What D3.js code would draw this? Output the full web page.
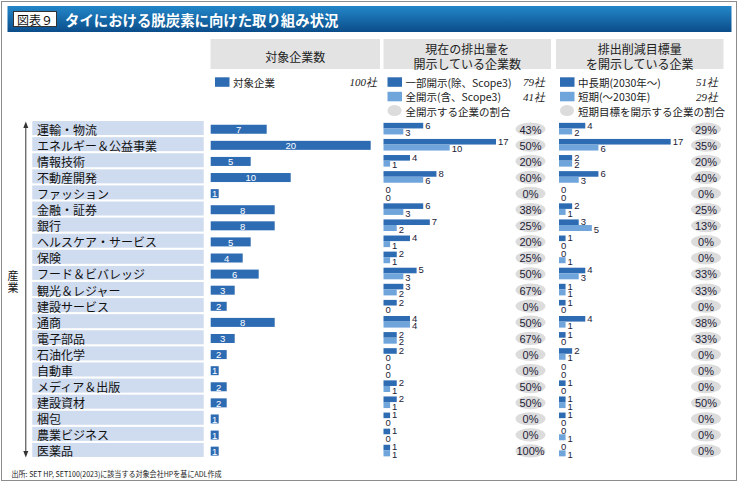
<!DOCTYPE html>
<html><head><meta charset="utf-8">
<script src="https://cdn.jsdelivr.net/npm/d3@7"></script>
<style>
html,body{margin:0;padding:0;background:#fff;}
svg{display:block;font-family:"Noto Sans CJK JP","Noto Sans",sans-serif;}
</style></head>
<body><svg id="chart" width="740" height="484"></svg>
<script>
const categories = ["運輸・物流","エネルギー＆公益事業","情報技術","不動産開発","ファッション","金融・証券","銀行","ヘルスケア・サービス","保険","フード＆ビバレッジ","観光＆レジャー","建設サービス","通商","電子部品","石油化学","自動車","メディア＆出版","建設資材","梱包","農業ビジネス","医薬品"];
const companies      = [7,20,5,10,1,8,8,5,4,6,3,2,8,3,2,1,2,2,1,1,1];
const partialDisc    = [6,17,4,8,0,6,7,4,2,5,3,2,4,2,2,0,2,2,1,1,1];
const fullDisc       = [3,10,1,6,0,3,2,1,1,3,2,0,4,2,0,0,1,1,0,0,1];
const fullDiscPct    = [43,50,20,60,0,38,25,20,25,50,67,0,50,67,0,0,50,50,0,0,100];
const midLongTarget  = [4,17,2,6,0,2,3,1,0,4,1,1,4,1,2,0,1,1,1,0,0];
const shortTarget    = [2,6,2,3,0,1,5,0,1,3,1,0,1,0,1,0,0,1,0,1,1];
const shortTargetPct = [29,35,20,40,0,25,13,0,0,33,33,0,38,33,0,0,0,50,0,0,0];

const panelTitles = [["対象企業数"],["現在の排出量を","開示している企業数"],["排出削減目標量","を開示している企業"]];
const legend1 = [{label:"対象企業", total:"100社", type:"dark"}];
const legend2 = [{label:"一部開示(除、Scope3)", total:"79社", type:"dark"},{label:"全開示(含、Scope3)", total:"41社", type:"light"},{label:"全開示する企業の割合", total:"", type:"pct"}];
const legend3 = [{label:"中長期(2030年〜)", total:"51社", type:"dark"},{label:"短期(〜2030年)", total:"29社", type:"light"},{label:"短期目標を開示する企業の割合", total:"", type:"pct"}];
const titleLabel = "図表９";
const titleText = "タイにおける脱炭素に向けた取り組み状況";
const axisLabel = "産業";
const sourceText = "出所: SET HP, SET100(2023)に該当する対象会社HPを基にADL作成";

const DARK = "#2d6bb3", LIGHT = "#6fa5db", GRAY = "#dcdcdc", BAND = "#cfdbee", TXT = "#1c1c38";
const svg = d3.select("#chart");

// outer frame
svg.append("rect").attr("x",1.5).attr("y",1.5).attr("width",735).attr("height",479).attr("fill","#fff").attr("stroke","#8c8c8c");

// title bar
const defs = svg.append("defs");
const g = defs.append("linearGradient").attr("id","tg").attr("x1",0).attr("y1",0).attr("x2",0).attr("y2",1);
g.append("stop").attr("offset","0%").attr("stop-color","#2387c9");
g.append("stop").attr("offset","100%").attr("stop-color","#0b4d8a");
svg.append("rect").attr("x",7.5).attr("y",6).attr("width",724).attr("height",26).attr("fill","url(#tg)");
svg.append("rect").attr("x",13.5).attr("y",11.5).attr("width",43).attr("height",15).attr("fill","#fff").attr("stroke","#333");
svg.append("text").attr("x",35).attr("y",19.5).attr("text-anchor","middle").attr("dominant-baseline","central").attr("font-size",12).attr("fill","#111").text(titleLabel);
svg.append("text").attr("x",65).attr("y",19).attr("dominant-baseline","central").attr("font-size",14.4).attr("font-weight","bold").attr("fill","#fff").text(titleText);

// panel headers
const headerBoxes = [[210.5,380],[383.5,551],[556,723.5]];
panelTitles.forEach((lines,i)=>{
  const [x0,x1] = headerBoxes[i];
  svg.append("rect").attr("x",x0).attr("y",39).attr("width",x1-x0).attr("height",30).attr("fill","#e3e3e3");
  const cx=(x0+x1)/2;
  lines.forEach((t,j)=>{
    const y = lines.length===1 ? 56.5 : 48.5 + j*14.5;
    svg.append("text").attr("x",cx).attr("y",y).attr("text-anchor","middle").attr("dominant-baseline","central").attr("font-size",12).attr("fill","#222").text(t);
  });
});

// scales
const y = d3.scaleBand().domain(categories).range([121,459]).paddingInner(0).paddingOuter(0);
const x1 = d3.scaleLinear().domain([0,20]).range([210.7,370.7]);
const x2 = d3.scaleLinear().domain([0,17]).range([383.5,496]);
const x3 = d3.scaleLinear().domain([0,17]).range([559,670.7]);
const cy = c => y(c) + y.bandwidth()/2;

// legends
function drawLegend(items, lx, totalX){
  items.forEach((d,i)=>{
    const yy = 82 + i*14.5;
    if(d.type==="pct"){
      svg.append("ellipse").attr("cx",lx+7).attr("cy",yy-0.5).attr("rx",7).attr("ry",5.5).attr("fill",GRAY);
    } else {
      svg.append("rect").attr("x",lx).attr("y",yy-4.7).attr("width",14.5).attr("height",9.5).attr("fill",d.type==="dark"?DARK:LIGHT);
    }
    svg.append("text").attr("x",lx+18).attr("y",yy).attr("dominant-baseline","central").attr("font-size",10.5).attr("fill","#222").text(d.label);
    if(d.total){
      svg.append("text").attr("x",totalX).attr("y",yy).attr("text-anchor","end").attr("dominant-baseline","central")
        .attr("font-family","'Liberation Serif',serif").attr("font-style","italic").attr("font-size",11).attr("fill","#222").text(d.total);
    }
  });
}
drawLegend(legend1,215,377);
drawLegend(legend2,387.5,545);
drawLegend(legend3,560,718);

// category bands & labels
svg.selectAll(".band").data(categories).join("rect")
  .attr("x",32.3).attr("y",d=>cy(d)-8).attr("width",171.4).attr("height",14).attr("fill",BAND);
svg.selectAll(".clabel").data(categories).join("text")
  .attr("x",37).attr("y",d=>cy(d)).attr("dominant-baseline","central").attr("font-size",12).attr("fill","#111").text(d=>d);

// vertical arrow axis
svg.append("line").attr("x1",25.8).attr("x2",25.8).attr("y1",124).attr("y2",452).attr("stroke","#333").attr("stroke-width",1);
svg.append("path").attr("d","M25.8,121.5 L23.3,128 L28.3,128 Z").attr("fill","#333");
svg.append("path").attr("d","M25.8,457.5 L23.3,451 L28.3,451 Z").attr("fill","#333");
axisLabel.split("").forEach((ch,i)=>{
  svg.append("text").attr("x",13).attr("y",275+i*12).attr("text-anchor","middle").attr("dominant-baseline","central").attr("font-size",11).attr("fill","#111").text(ch);
});

// panel 1: companies
const p1 = svg.append("g");
p1.selectAll("rect").data(categories).join("rect")
  .attr("x",x1(0)).attr("y",d=>cy(d)-4.3).attr("width",(d,i)=>x1(companies[i])-x1(0)).attr("height",9).attr("fill",DARK);
p1.selectAll("text").data(categories).join("text")
  .attr("x",(d,i)=>(x1(0)+x1(companies[i]))/2).attr("y",d=>cy(d)+0.5).attr("text-anchor","middle").attr("dominant-baseline","central")
  .attr("font-family","'Liberation Sans',Arial,sans-serif").attr("font-size",9.5).attr("fill","#fff").text((d,i)=>companies[i]);

// paired bar panels
function pairedPanel(xs, darkVals, lightVals, pcts, pctX){
  const gg = svg.append("g");
  gg.selectAll(".d").data(categories).join("rect")
    .attr("x",xs(0)).attr("y",d=>cy(d)-6.2).attr("width",(d,i)=>xs(darkVals[i])-xs(0)).attr("height",5.6).attr("fill",DARK);
  gg.selectAll(".l").data(categories).join("rect")
    .attr("x",xs(0)).attr("y",d=>cy(d)-0.6).attr("width",(d,i)=>xs(lightVals[i])-xs(0)).attr("height",6).attr("fill",LIGHT);
  gg.selectAll(".dt").data(categories).join("text")
    .attr("x",(d,i)=>xs(darkVals[i])+2).attr("y",d=>cy(d)-4).attr("dominant-baseline","central")
    .attr("font-family","'Liberation Sans',Arial,sans-serif").attr("font-size",9.5).attr("fill",TXT).text((d,i)=>darkVals[i]);
  gg.selectAll(".lt").data(categories).join("text")
    .attr("x",(d,i)=>xs(lightVals[i])+2).attr("y",d=>cy(d)+3.6).attr("dominant-baseline","central")
    .attr("font-family","'Liberation Sans',Arial,sans-serif").attr("font-size",9.5).attr("fill",TXT).text((d,i)=>lightVals[i]);
  gg.selectAll("ellipse").data(categories).join("ellipse")
    .attr("cx",pctX).attr("cy",d=>cy(d)).attr("rx",15).attr("ry",6.6).attr("fill",GRAY);
  gg.selectAll(".pt").data(categories).join("text")
    .attr("x",pctX).attr("y",d=>cy(d)+0.5).attr("text-anchor","middle").attr("dominant-baseline","central")
    .attr("font-family","'Liberation Sans',Arial,sans-serif").attr("font-size",11).attr("fill",TXT).text((d,i)=>pcts[i]+"%");
}
pairedPanel(x2, partialDisc, fullDisc, fullDiscPct, 530.5);
pairedPanel(x3, midLongTarget, shortTarget, shortTargetPct, 706);

// source
svg.append("text").attr("x",11.5).attr("y",473).attr("dominant-baseline","central").attr("font-size",8).attr("fill","#222")
  .attr("textLength",210).attr("lengthAdjust","spacingAndGlyphs").text(sourceText);
</script></body></html>
